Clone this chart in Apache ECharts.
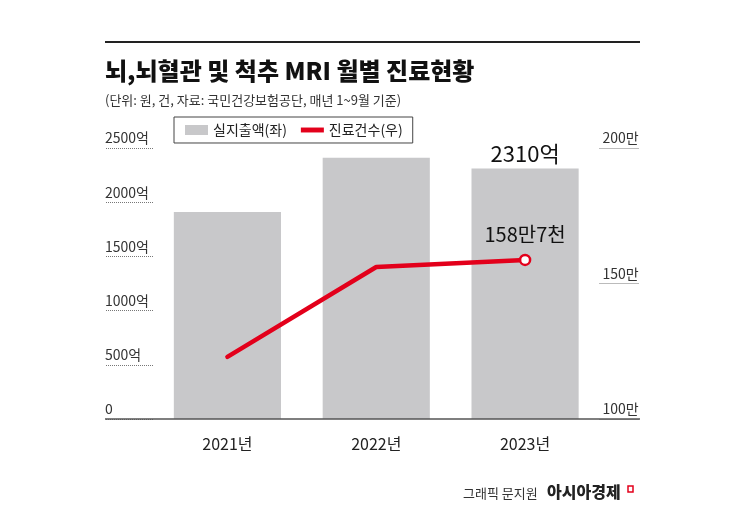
<!DOCTYPE html>
<html><head><meta charset="utf-8">
<script src="https://cdn.jsdelivr.net/npm/echarts@6/dist/echarts.min.js"></script>
<style>html,body{margin:0;padding:0;background:#fff}#c{width:745px;height:519px}</style>
</head><body><div id="c"></div>
<script>
var categories = ['2021년', '2022년', '2023년'];
var spending = [1910, 2410, 2310];          // 실지출액 (억 원)
var visits = [122.9, 156.1, 158.7];         // 진료건수 (만 건)
var leftTicks = [0, 500, 1000, 1500, 2000, 2500];
var rightTicks = [100, 150, 200];
var spendingLabel = '2310억';
var visitsLabel = '158만7천';

var FONT = '"Noto Sans CJK KR", "Noto Sans", sans-serif';
var RED = '#e3001b';
var chart = echarts.init(document.getElementById('c'), null, {renderer: 'canvas'});

var barData = spending.map(function (v, i) {
  if (i === spending.length - 1) {
    return {value: v, label: {show: true, position: 'top', distance: 4, formatter: spendingLabel,
      fontSize: 22, color: '#111', fontFamily: FONT}};
  }
  return v;
});
var lineData = visits.map(function (v, i) {
  if (i === visits.length - 1) {
    return {value: v, symbol: 'circle', symbolSize: 10,
      itemStyle: {color: '#fff', borderColor: RED, borderWidth: 2.5},
      label: {show: true, position: 'top', distance: 9, formatter: visitsLabel,
        fontSize: 20, color: '#111', fontFamily: FONT}};
  }
  return v;
});

chart.setOption({
  animation: false,
  textStyle: {fontFamily: FONT},
  title: {
    text: '뇌,뇌혈관 및 척추 MRI 월별 진료현황',
    subtext: '(단위: 원, 건, 자료: 국민건강보험공단, 매년 1~9월 기준)',
    left: 100, top: 51, itemGap: 6,
    textStyle: {fontSize: 24, fontWeight: 900, color: '#111', fontFamily: FONT, lineHeight: 30},
    subtextStyle: {fontSize: 13, color: '#333', fontFamily: FONT, lineHeight: 16}
  },
  legend: {
    left: 174, top: 117,
    padding: [6, 10, 6, 11],
    itemGap: 14, itemWidth: 23, itemHeight: 10,
    borderColor: '#444', borderWidth: 1,
    textStyle: {fontSize: 14, color: '#222', fontFamily: FONT},
    data: [
      {name: '실지출액(좌)', icon: 'rect'},
      {name: '진료건수(우)', icon: 'path://M0,0h21v4.5h-21z', itemStyle: {color: RED}}
    ]
  },
  grid: {left: 153, right: 145.5, top: 148, bottom: 100, containLabel: false},
  xAxis: {
    type: 'category', data: categories,
    axisLine: {show: false}, axisTick: {show: false},
    axisLabel: {margin: 17, fontSize: 16, color: '#222', fontFamily: FONT}
  },
  yAxis: [{
    type: 'value', min: 0, max: 2500, interval: 500, position: 'left',
    axisLine: {show: false}, splitLine: {show: false},
    axisTick: {show: true, inside: false, length: 48, lineStyle: {color: '#777', type: 'dotted', width: 1}},
    axisLabel: {align: 'left', margin: 48, verticalAlign: 'bottom', padding: [0, 0, 3, 0],
      fontSize: 14, color: '#333', fontFamily: FONT,
      formatter: function (v) { return v === 0 ? '0' : v + '억'; }}
  }, {
    type: 'value', min: 100, max: 200, interval: 50, position: 'right',
    axisLine: {show: false}, splitLine: {show: false},
    axisTick: {show: true, inside: false, length: 40, lineStyle: {color: '#777', type: 'dotted', width: 1}},
    axisLabel: {align: 'left', margin: 3, verticalAlign: 'bottom', padding: [0, 0, 3, 0],
      fontSize: 14, color: '#333', fontFamily: FONT,
      formatter: function (v) { return v + '만'; }}
  }],
  series: [{
    name: '실지출액(좌)', type: 'bar', data: barData, yAxisIndex: 0,
    barCategoryGap: '28%',
    itemStyle: {color: '#c8c8ca'}
  }, {
    name: '진료건수(우)', type: 'line', data: lineData, yAxisIndex: 1,
    symbol: 'none', z: 5,
    lineStyle: {color: RED, width: 4.5, cap: 'round', join: 'round'},
    itemStyle: {color: RED}
  }],
  graphic: [
    {type: 'line', z: 100, shape: {x1: 105, y1: 42, x2: 640, y2: 42}, style: {stroke: '#222', lineWidth: 2}},
    {type: 'line', z: 100, shape: {x1: 105, y1: 419, x2: 640, y2: 419}, style: {stroke: '#555', lineWidth: 1.5}},
    {type: 'text', z: 100, left: 463, top: 487, style: {text: '그래픽 문지원', font: '13px ' + FONT, fill: '#333'}},
    {type: 'text', z: 100, left: 547, top: 484, style: {text: '아시아경제', font: '900 16px ' + FONT, fill: '#222'}},
    {type: 'rect', z: 100, shape: {x: 628, y: 486, width: 5, height: 6}, style: {fill: 'none', stroke: RED, lineWidth: 1.5}}
  ]
});
</script></body></html>
